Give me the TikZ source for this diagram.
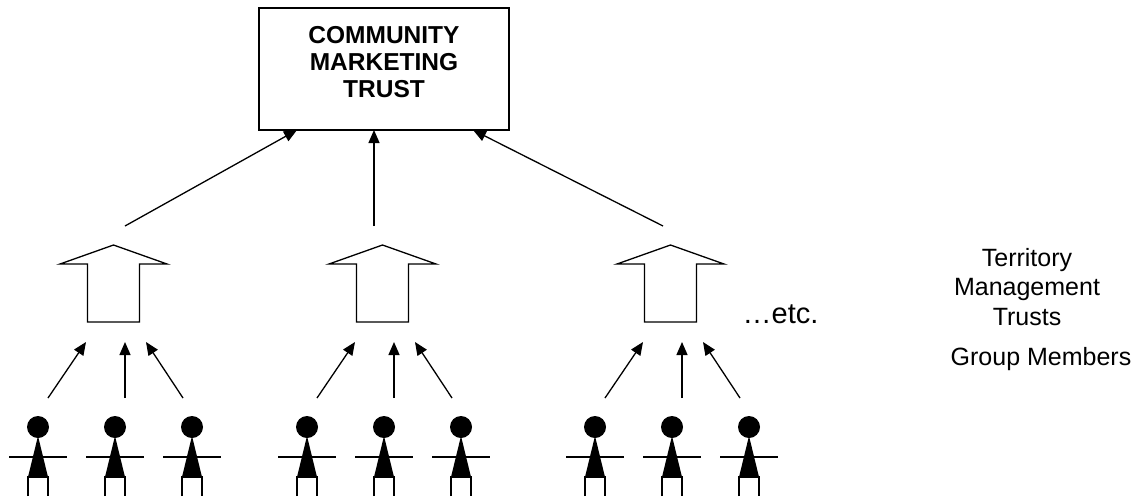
\documentclass[tikz,border=0pt]{standalone}
\usepackage{fontspec}
\setmainfont{Liberation Sans}
\usetikzlibrary{arrows.meta}

\tikzset{
  link/.style={-{Triangle[length=13pt,width=11pt]}, line width=1.3pt},
  trustarrow/.style={draw, line width=1.3pt, fill=white, line join=miter},
  caption/.style={align=center, inner sep=0pt},
}

\begin{document}
\begin{tikzpicture}[x=1pt, y=-1pt, line width=1.3pt]
  \useasboundingbox (0,0) rectangle (1134,496);
  \node[draw, minimum width=250pt, minimum height=122pt, inner sep=0pt] (cmt) at (384,69) {};
  \node[caption, font=\fontsize{24.5}{27}\selectfont\bfseries] (cmtname) at (384,61.75)
    {COMMUNITY\\MARKETING\\TRUST};
  \node[caption, font=\fontsize{25}{29.5}\selectfont] (tmt) at (1027,287)
    {Territory\\Management\\Trusts};
  \node[caption, anchor=base, font=\fontsize{25}{29}\selectfont] (members) at (1041,365) {Group Members};
  \node[caption, anchor=base west, font=\fontsize{29}{32}\selectfont] (etc) at (742,323) {…etc.};
  \foreach \m/\g/\sx/\ex in {115/a/125/297, 384/b/374/374, 672/c/663/473} {
    % territory trust
    \draw[trustarrow] (\m-1.5,245) -- (\m+52,264) -- (\m+24.5,264) -- (\m+24.5,322)
      -- (\m-27.5,322) -- (\m-27.5,264) -- (\m-55,264) -- cycle;
    \coordinate (\g-top) at (\sx,226);
    \coordinate (\g-cmt) at (\ex,130);
    \draw[link] (\g-top) -- (\g-cmt);
    % members to trust
    \coordinate (\g-l0) at (\m-67,398);
    \coordinate (\g-l1) at (\m-29,342);
    \coordinate (\g-m0) at (\m+10,398);
    \coordinate (\g-m1) at (\m+10,342);
    \coordinate (\g-r0) at (\m+68,398);
    \coordinate (\g-r1) at (\m+31,342);
    \draw[link] (\g-l0) -- (\g-l1);
    \draw[link] (\g-m0) -- (\g-m1);
    \draw[link] (\g-r0) -- (\g-r1);
    \foreach \d in {-77,0,77} {
      \pgfmathsetmacro{\p}{\m+\d}
      \fill (\p,427) circle[radius=11pt];
      \fill (\p,436) -- (\p-10,477) -- (\p+10,477) -- cycle;
      \draw (\p-29,457) -- (\p+29,457);
      \draw (\p-10,496) -- (\p-10,477) -- (\p+10,477) -- (\p+10,496);
    }
  }
\end{tikzpicture}
\end{document}
